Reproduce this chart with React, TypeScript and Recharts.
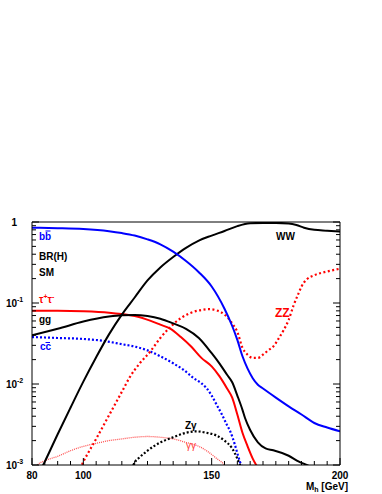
import React from 'react';
import { LineChart, Line, XAxis, YAxis } from 'recharts';

// ---- data (Higgs boson branching ratios vs M_h) ----
const bbMass = [80, 90, 100, 110, 115, 120, 125, 130, 135, 140, 145, 150, 155, 158, 160, 162, 164, 166, 168, 170, 175, 180, 185, 190, 195, 200];
const bbBR = [0.85, 0.84, 0.82, 0.77, 0.73, 0.68, 0.61, 0.53, 0.43, 0.33, 0.24, 0.16, 0.085, 0.052, 0.035, 0.022, 0.0155, 0.0118, 0.0098, 0.0088, 0.0068, 0.0053, 0.0042, 0.0033, 0.0029, 0.0026];

const wwMass = [83, 85, 90, 95, 100, 105, 110, 115, 120, 125, 130, 135, 140, 145, 150, 155, 160, 165, 170, 175, 180, 183, 186, 190, 195, 200];
const wwBR = [0.00082, 0.0011, 0.0024, 0.0051, 0.0107, 0.0214, 0.041, 0.072, 0.117, 0.19, 0.275, 0.37, 0.48, 0.59, 0.68, 0.775, 0.89, 0.965, 0.975, 0.975, 0.96, 0.92, 0.85, 0.8, 0.78, 0.76];

const ggMass = [80, 90, 100, 110, 115, 120, 125, 130, 135, 140, 145, 150, 153, 156, 158, 160, 162, 163, 165, 168, 171, 174, 180, 184, 188, 192];
const ggBR = [0.04, 0.048, 0.059, 0.068, 0.0705, 0.071, 0.069, 0.064, 0.056, 0.048, 0.037, 0.024, 0.018, 0.013, 0.0105, 0.0072, 0.0048, 0.0038, 0.0027, 0.0019, 0.0016, 0.00152, 0.0013, 0.0011, 0.00097, 0.0008];

const tauMass = [80, 90, 100, 110, 115, 120, 126, 130, 134, 138, 142, 146, 150, 153, 156, 158, 160, 162, 164, 166, 168, 170];
const tauBR = [0.08, 0.08, 0.079, 0.076, 0.073, 0.069, 0.0605, 0.054, 0.048, 0.038, 0.029, 0.021, 0.0165, 0.0125, 0.0088, 0.0068, 0.0042, 0.0025, 0.0017, 0.0012, 0.00092, 0.0007];

const ccMass = [80, 90, 100, 108, 115, 120, 125, 130, 135, 139, 143, 146, 148, 150, 152, 154, 156, 157, 159, 160, 161, 162, 163];
const ccBR = [0.038, 0.037, 0.036, 0.034, 0.031, 0.029, 0.026, 0.022, 0.018, 0.015, 0.0118, 0.0102, 0.0089, 0.0072, 0.0055, 0.0042, 0.0031, 0.0027, 0.0018, 0.0014, 0.0011, 0.00092, 0.0007];

const zzMass = [98, 99.4, 105, 110, 115, 118, 122, 126, 130, 134, 138, 142, 146, 149, 152, 155, 158, 160, 162, 164, 166, 168, 170, 172, 174, 176, 178, 180, 182, 184, 185, 187, 190, 195, 200];
const zzBR = [0.0008, 0.001, 0.0021, 0.0041, 0.008, 0.012, 0.018, 0.025, 0.037, 0.051, 0.065, 0.076, 0.082, 0.084, 0.081, 0.072, 0.056, 0.044, 0.028, 0.023, 0.021, 0.021, 0.023, 0.026, 0.029, 0.036, 0.046, 0.062, 0.095, 0.135, 0.16, 0.195, 0.22, 0.245, 0.265];

const zgMass = [118.5, 119.5, 122, 125, 130, 135, 140, 144, 148, 152, 155, 158, 160, 161.2, 162];
const zgBR = [0.0008, 0.001, 0.00125, 0.0015, 0.0019, 0.0022, 0.0025, 0.0026, 0.0025, 0.0023, 0.002, 0.0016, 0.0012, 0.00097, 0.0008];

const gamMass = [81, 82, 85, 90, 95, 100, 105, 110, 115, 120, 125, 130, 135, 140, 145, 148, 152, 155, 157];
const gamBR = [0.00092, 0.001, 0.00113, 0.00128, 0.0015, 0.0017, 0.00185, 0.002, 0.0021, 0.0022, 0.00225, 0.0022, 0.0021, 0.0019, 0.0017, 0.0015, 0.0012, 0.001, 0.0008];

// ---- axes ----
const xTicks = [80, 85, 90, 95, 100, 105, 110, 115, 120, 125, 130, 135, 140, 145, 150, 155, 160, 165, 170, 175, 180, 185, 190, 195, 200];
const xMajor = [80, 100, 150, 200];
const xLabels = [80, 100, 150, 200];
const yTicks = [
  0.001, 0.002, 0.003, 0.004, 0.005, 0.006, 0.007, 0.008, 0.009,
  0.01, 0.02, 0.03, 0.04, 0.05, 0.06, 0.07, 0.08, 0.09,
  0.1, 0.2, 0.3, 0.4, 0.5, 0.6, 0.7, 0.8, 0.9, 1,
];
const yLabelExp: Record<string, string> = { '1': '', '0.1': '-1', '0.01': '-2', '0.001': '-3' };

const FONT = '"Liberation Sans", Arial, Helvetica, sans-serif';

const toData = (m: number[], v: number[]) => m.map((x, i) => ({ m: x, v: v[i] }));

const isMajorY = (v: number) => Math.abs(Math.log10(v) - Math.round(Math.log10(v))) < 1e-6;

const BottomTick = (props: any) => {
  const { x, y, payload } = props;
  const v = payload.value;
  const len = xMajor.includes(v) ? 7 : 4;
  return (
    <g>
      <line x1={x} x2={x} y1={y} y2={y - len} stroke="#000" strokeWidth={1} />
      {xLabels.includes(v) && (
        <text x={x} y={y + 14} textAnchor="middle" fontFamily={FONT} fontWeight="bold" fontSize={10} fill="#000">
          {v}
        </text>
      )}
    </g>
  );
};

const TopTick = (props: any) => {
  const { x, y, payload } = props;
  const v = payload.value;
  const len = xMajor.includes(v) ? 7 : 4;
  return <line x1={x} x2={x} y1={y} y2={y + len} stroke="#000" strokeWidth={1} />;
};

const LeftTick = (props: any) => {
  const { x, y, payload } = props;
  const v = payload.value;
  const major = isMajorY(v);
  const len = major ? 7 : 4;
  const exp = yLabelExp[String(v)];
  return (
    <g>
      <line x1={x} x2={x + len} y1={y} y2={y} stroke="#000" strokeWidth={1} />
      {exp !== undefined && (
        <text x={x - 15} y={y + 4} textAnchor="end" fontFamily={FONT} fontWeight="bold" fontSize={10} fill="#000">
          {exp === '' ? '1' : '10'}
        </text>
      )}
      {exp && (
        <text x={x - 15} y={y - 1} textAnchor="start" fontFamily={FONT} fontWeight="bold" fontSize={7} fill="#000">
          {exp}
        </text>
      )}
    </g>
  );
};

const RightTick = (props: any) => {
  const { x, y, payload } = props;
  const len = isMajorY(payload.value) ? 7 : 4;
  return <line x1={x} x2={x - len} y1={y} y2={y} stroke="#000" strokeWidth={1} />;
};

const Annotations = () => (
  <svg
    width={382}
    height={494}
    style={{ position: 'absolute', left: 0, top: 0, pointerEvents: 'none' }}
    fontFamily={FONT}
    fontWeight="bold"
    fontSize={10}
  >
    <text x={39} y={240} fill="#0000ff">bb</text>
    <line x1={45.5} x2={50.5} y1={231} y2={231} stroke="#0000ff" strokeWidth={1} />
    <text x={39} y={259.5} fill="#000">BR(H)</text>
    <text x={39} y={275.5} fill="#000">SM</text>
    <text x={39} y={303} fill="#ff0000">
      τ<tspan fontSize={7} dy={-4}>+</tspan><tspan dy={4}>τ</tspan><tspan fontSize={7} dy={-4}>-</tspan>
    </text>
    <text x={39} y={323} fill="#000">gg</text>
    <text x={40} y={350} fill="#0000ff">cc</text>
    <line x1={45.5} x2={50} y1={342.5} y2={342.5} stroke="#0000ff" strokeWidth={1} />
    <text x={185} y={429} fill="#000">Zγ</text>
    <text x={186} y={449} fill="#ff4040" fontWeight="normal">γγ</text>
    <text x={275} y={317} fill="#ff0000" fontSize={12}>ZZ</text>
    <text x={276} y={240} fill="#000">WW</text>
    <text x={348} y={490} textAnchor="end" fill="#000">
      M<tspan fontSize={7} dy={2}>h</tspan><tspan dy={-2}> [GeV]</tspan>
    </text>
  </svg>
);

export default function App() {
  return (
    <div style={{ position: 'absolute', left: 0, top: 0, width: 382, height: 494, background: '#fff' }}>
      <LineChart width={382} height={494} margin={{ top: 192, left: 2, right: 12, bottom: 0 }}>
        <XAxis
          dataKey="m"
          type="number"
          domain={[80, 200]}
          ticks={xTicks}
          height={29}
          tickSize={0}
          tickMargin={0}
          tickLine={false}
          axisLine={{ stroke: '#000', strokeWidth: 1 }}
          tick={<BottomTick />}
          allowDataOverflow
          interval={0}
        />
        <XAxis
          xAxisId="top"
          orientation="top"
          type="number"
          domain={[80, 200]}
          ticks={xTicks}
          height={30}
          tickSize={0}
          tickMargin={0}
          tickLine={false}
          axisLine={{ stroke: '#000', strokeWidth: 1 }}
          tick={<TopTick />}
          interval={0}
        />
        <YAxis
          type="number"
          scale="log"
          domain={[0.001, 1]}
          ticks={yTicks}
          width={30}
          tickSize={0}
          tickMargin={0}
          tickLine={false}
          axisLine={{ stroke: '#000', strokeWidth: 1 }}
          tick={<LeftTick />}
          allowDataOverflow
          interval={0}
        />
        <YAxis
          yAxisId="right"
          orientation="right"
          type="number"
          scale="log"
          domain={[0.001, 1]}
          ticks={yTicks}
          width={30}
          tickSize={0}
          tickMargin={0}
          tickLine={false}
          axisLine={{ stroke: '#000', strokeWidth: 1 }}
          tick={<RightTick />}
          allowDataOverflow
          interval={0}
        />
        <Line data={toData(gamMass, gamBR)} dataKey="v" type="monotone" stroke="#ff5050" strokeWidth={1.3} strokeDasharray="1 1" dot={false} isAnimationActive={false} />
        <Line data={toData(zgMass, zgBR)} dataKey="v" type="monotone" stroke="#000" strokeWidth={2.2} strokeDasharray="2 2" dot={false} isAnimationActive={false} />
        <Line data={toData(ccMass, ccBR)} dataKey="v" type="monotone" stroke="#0000ff" strokeWidth={2.2} strokeDasharray="2 2" dot={false} isAnimationActive={false} />
        <Line data={toData(zzMass, zzBR)} dataKey="v" type="monotone" stroke="#ff0000" strokeWidth={2.2} strokeDasharray="2 2.5" dot={false} isAnimationActive={false} />
        <Line data={toData(tauMass, tauBR)} dataKey="v" type="monotone" stroke="#ff0000" strokeWidth={2} dot={false} isAnimationActive={false} />
        <Line data={toData(ggMass, ggBR)} dataKey="v" type="monotone" stroke="#000" strokeWidth={2} dot={false} isAnimationActive={false} />
        <Line data={toData(wwMass, wwBR)} dataKey="v" type="monotone" stroke="#000" strokeWidth={2} dot={false} isAnimationActive={false} />
        <Line data={toData(bbMass, bbBR)} dataKey="v" type="monotone" stroke="#0000ff" strokeWidth={2} dot={false} isAnimationActive={false} />
      </LineChart>
      <Annotations />
    </div>
  );
}
